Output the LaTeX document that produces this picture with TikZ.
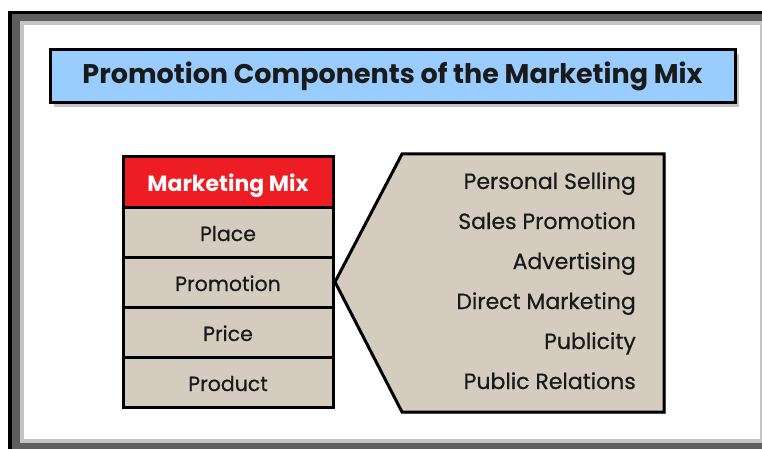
\documentclass[tikz,border=0pt]{standalone}
\usepackage{fontspec}
\setmainfont{Poppins}
\newfontfamily\medfont{Poppins}[FakeBold=0.6]
\usetikzlibrary{positioning,shadows}

\definecolor{titleblue}{HTML}{99CCFF}
\definecolor{mixred}{HTML}{EE1D24}
\definecolor{mixtan}{HTML}{D5CCC0}
\definecolor{framedark}{HTML}{5E5E5E}
\definecolor{framelight}{HTML}{C4C4C4}
\definecolor{inktext}{HTML}{1A1A1A}

\begin{document}
\begin{tikzpicture}[x=1pt, y=-1pt]

\tikzset{TitleBox/.style = {draw, line width=3pt, fill=titleblue, minimum width=685pt, minimum height=53pt,
    text=inktext, font=\fontsize{27}{27}\selectfont\bfseries, drop shadow={opacity=0.45, shadow xshift=4pt, shadow yshift=-4pt}}}
\tikzset{MixRow/.style = {draw, line width=3pt, fill=mixtan, minimum width=210pt, minimum height=50pt,
    outer sep=0pt, inner sep=0pt, text height=18pt, text depth=0pt, text=inktext, font=\fontsize{20.5}{20.5}\medfont}}
\tikzset{MixHead/.style = {MixRow, fill=mixred, text=white, font=\fontsize{22}{22}\selectfont\bfseries}}
\tikzset{ToolText/.style = {anchor=base east, inner sep=0pt, text=inktext, font=\fontsize{22}{22}\medfont}}

\useasboundingbox (0,0) rectangle (762,449);

% window frame
\fill[black] (8,11) rectangle (762,449);
\fill[framedark] (12,14) rectangle (762,449);
\fill[framelight] (20,21) rectangle (762,443);
\fill[white] (24,25) rectangle (760,439);

\node[TitleBox] (title) at (392.5,76.5) {Promotion Components of the Marketing Mix};

\node[MixHead] (mix) at (228,182) {Marketing Mix};
\node[MixRow, below=0pt of mix] (place) {Place};
\node[MixRow, below=0pt of place] (promotion) {Promotion};
\node[MixRow, below=0pt of promotion] (price) {Price};
\node[MixRow, below=0pt of price] (product) {Product};

\coordinate (tip) at ([xshift=2pt]promotion.east);
\draw[line width=3pt, fill=mixtan, line join=miter, drop shadow={opacity=0.3, shadow xshift=2pt, shadow yshift=-2pt}]
    (tip) -- (402,154) -- (664,154) -- (664,412) -- (402,412) -- cycle;

\foreach \tool [count=\i] in {Personal Selling, Sales Promotion, Advertising, Direct Marketing, Publicity, Public Relations}
    \node[ToolText] (tool\i) at (636,149+40*\i) {\tool};

\end{tikzpicture}
\end{document}
